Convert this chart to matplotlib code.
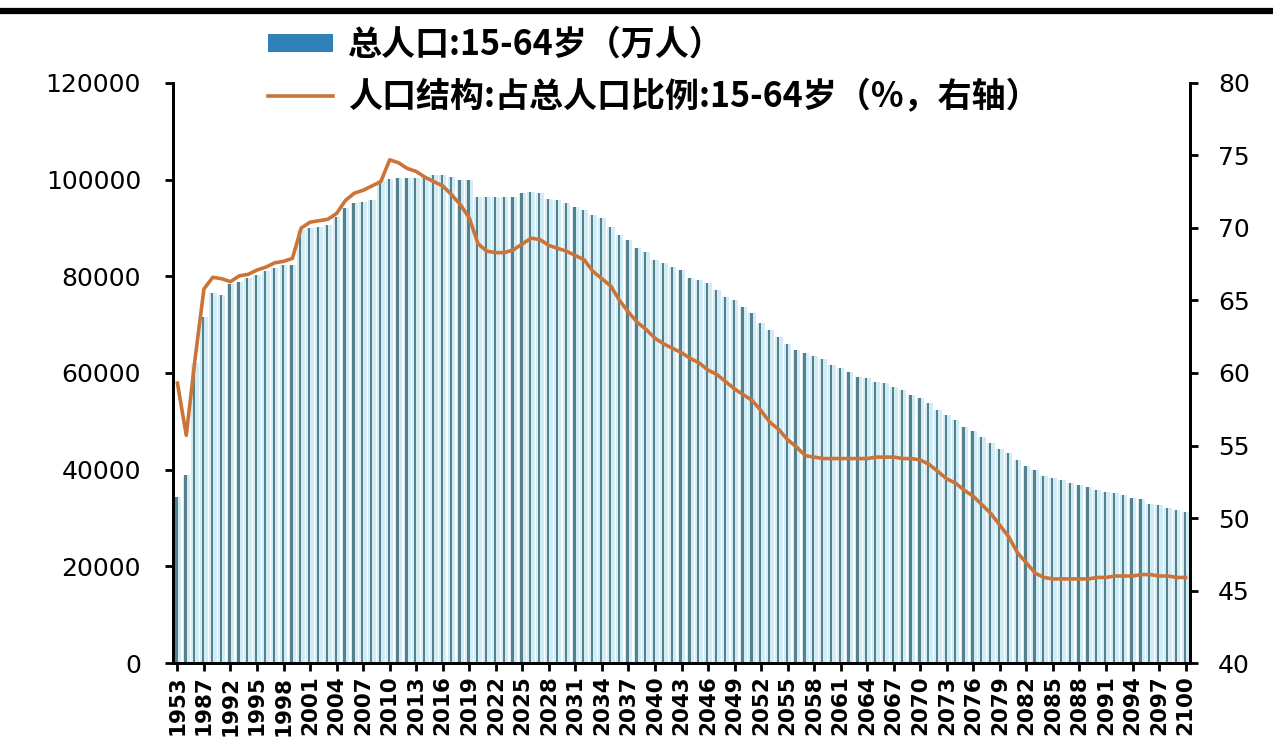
import matplotlib
matplotlib.use("Agg")
import matplotlib.pyplot as plt
import numpy as np
from matplotlib.patches import Patch
from matplotlib.lines import Line2D

# categories: census years, then yearly from 1992
years = ['1953', '1964', '1982', '1987', '1990', '1991'] + [str(y) for y in range(1992, 2101)]

# 15-64 population (10k persons)
pop_15_64 = [34400, 38900, 62000, 71600, 76500, 76100, 78500, 78900, 79600, 80300,
             81000, 81700, 82300, 82400, 89600, 89900, 90300, 90600, 92300, 94100,
             95100, 95400, 95800, 99900, 100100, 100300, 100300, 100300, 100600, 101000,
             101000, 100600, 99900, 99900, 96500, 96400, 96400, 96400, 96400, 97200,
             97500, 97200, 96100, 95800, 95100, 94400, 93700, 92700, 92000, 90300,
             88600, 87500, 85800, 85100, 83400, 82700, 82000, 81300, 79600, 79200,
             78600, 77200, 75800, 75100, 73700, 72400, 70300, 68900, 67500, 66100,
             64800, 64200, 63500, 62900, 61700, 61000, 60300, 59200, 58900, 58200,
             57900, 57200, 56500, 55500, 54800, 53700, 52400, 51300, 50300, 48900,
             47900, 46800, 45500, 44200, 43400, 42000, 40700, 39900, 38700, 38200,
             37900, 37200, 36800, 36500, 35800, 35400, 35100, 34800, 34100, 33900,
             33000, 32700, 32000, 31700, 31300]

# share of total population, %
share_15_64 = [59.3, 55.7, 61.0, 65.8, 66.6, 66.5, 66.3, 66.7, 66.8, 67.1,
               67.3, 67.6, 67.7, 67.9, 70.0, 70.4, 70.5, 70.6, 71.0, 71.9,
               72.4, 72.6, 72.9, 73.2, 74.7, 74.5, 74.1, 73.9, 73.5, 73.2,
               72.9, 72.3, 71.6, 70.7, 68.9, 68.4, 68.3, 68.3, 68.5, 68.9,
               69.3, 69.2, 68.8, 68.6, 68.4, 68.1, 67.8, 67.0, 66.5, 66.0,
               65.0, 64.2, 63.5, 63.0, 62.4, 62.0, 61.7, 61.4, 61.0, 60.7,
               60.2, 59.9, 59.4, 58.9, 58.5, 58.1, 57.4, 56.6, 56.1, 55.4,
               54.9, 54.3, 54.2, 54.1, 54.1, 54.1, 54.1, 54.1, 54.1, 54.2,
               54.2, 54.2, 54.1, 54.1, 54.0, 53.7, 53.2, 52.7, 52.4, 51.9,
               51.5, 50.9, 50.3, 49.5, 48.7, 47.6, 46.9, 46.2, 45.9, 45.8,
               45.8, 45.8, 45.8, 45.8, 45.9, 45.9, 46.0, 46.0, 46.0, 46.1,
               46.1, 46.0, 46.0, 45.9, 45.9]

label_bar = '总人口:15-64岁（万人）'
label_line = '人口结构:占总人口比例:15-64岁（%，右轴）'

plt.rcParams['font.family'] = ['DejaVu Sans']
cjk = ['Noto Sans CJK SC', 'DejaVu Sans']

fig = plt.figure(figsize=(12.73, 7.53), dpi=100)
ax = fig.add_axes([0.1359, 0.1195, 0.9348 - 0.1359, 0.8898 - 0.1195])
ax2 = ax.twinx()

x = np.arange(len(years))
ax.bar(x, pop_15_64, width=0.85, color='#d2ecf5', zorder=1)
ax.bar(x - 0.1, pop_15_64, width=0.26, color='#55818c', zorder=2)
ax2.plot(x, share_15_64, color='#cc7438', linewidth=2.6, zorder=3)

ax.set_xlim(-0.5, len(years) - 0.5)
ax.set_ylim(0, 120000)
ax2.set_ylim(40, 80)
ax.set_yticks(np.arange(0, 120001, 20000))
ax2.set_yticks(np.arange(40, 81, 5))
ax.set_xticks(x[::3])
ax.set_xticklabels(years[::3], rotation=90, fontsize=15.5, fontweight='bold')

for a in (ax, ax2):
    a.spines['top'].set_visible(False)
    for s in ('left', 'right', 'bottom'):
        a.spines[s].set_linewidth(2)
ax.tick_params(axis='y', labelsize=18, length=6, width=2, direction='out', pad=17)
ax2.tick_params(axis='y', labelsize=18, length=6, width=2, direction='out', pad=14)
ax.tick_params(axis='x', length=6, width=2, direction='out', pad=3)

handles = [Patch(facecolor='#2e82b8', edgecolor='none'),
           Line2D([], [], color='#cc7438', linewidth=2.6)]
fig.legend(handles, [label_bar, label_line], loc='upper left',
           bbox_to_anchor=(268 / 1273, 1 - 27 / 753), frameon=False,
           prop={'family': cjk, 'size': 24.5, 'weight': 'bold'},
           handlelength=1.9, handleheight=0.45, handletextpad=0.45,
           labelspacing=0.5, borderpad=0, borderaxespad=0)

# thick rule at the top of the picture
fig.add_artist(Line2D([0, 1], [1 - 11 / 753, 1 - 11 / 753], color='black',
                      linewidth=4.5, transform=fig.transFigure))

fig.savefig('out.png', dpi=100)
